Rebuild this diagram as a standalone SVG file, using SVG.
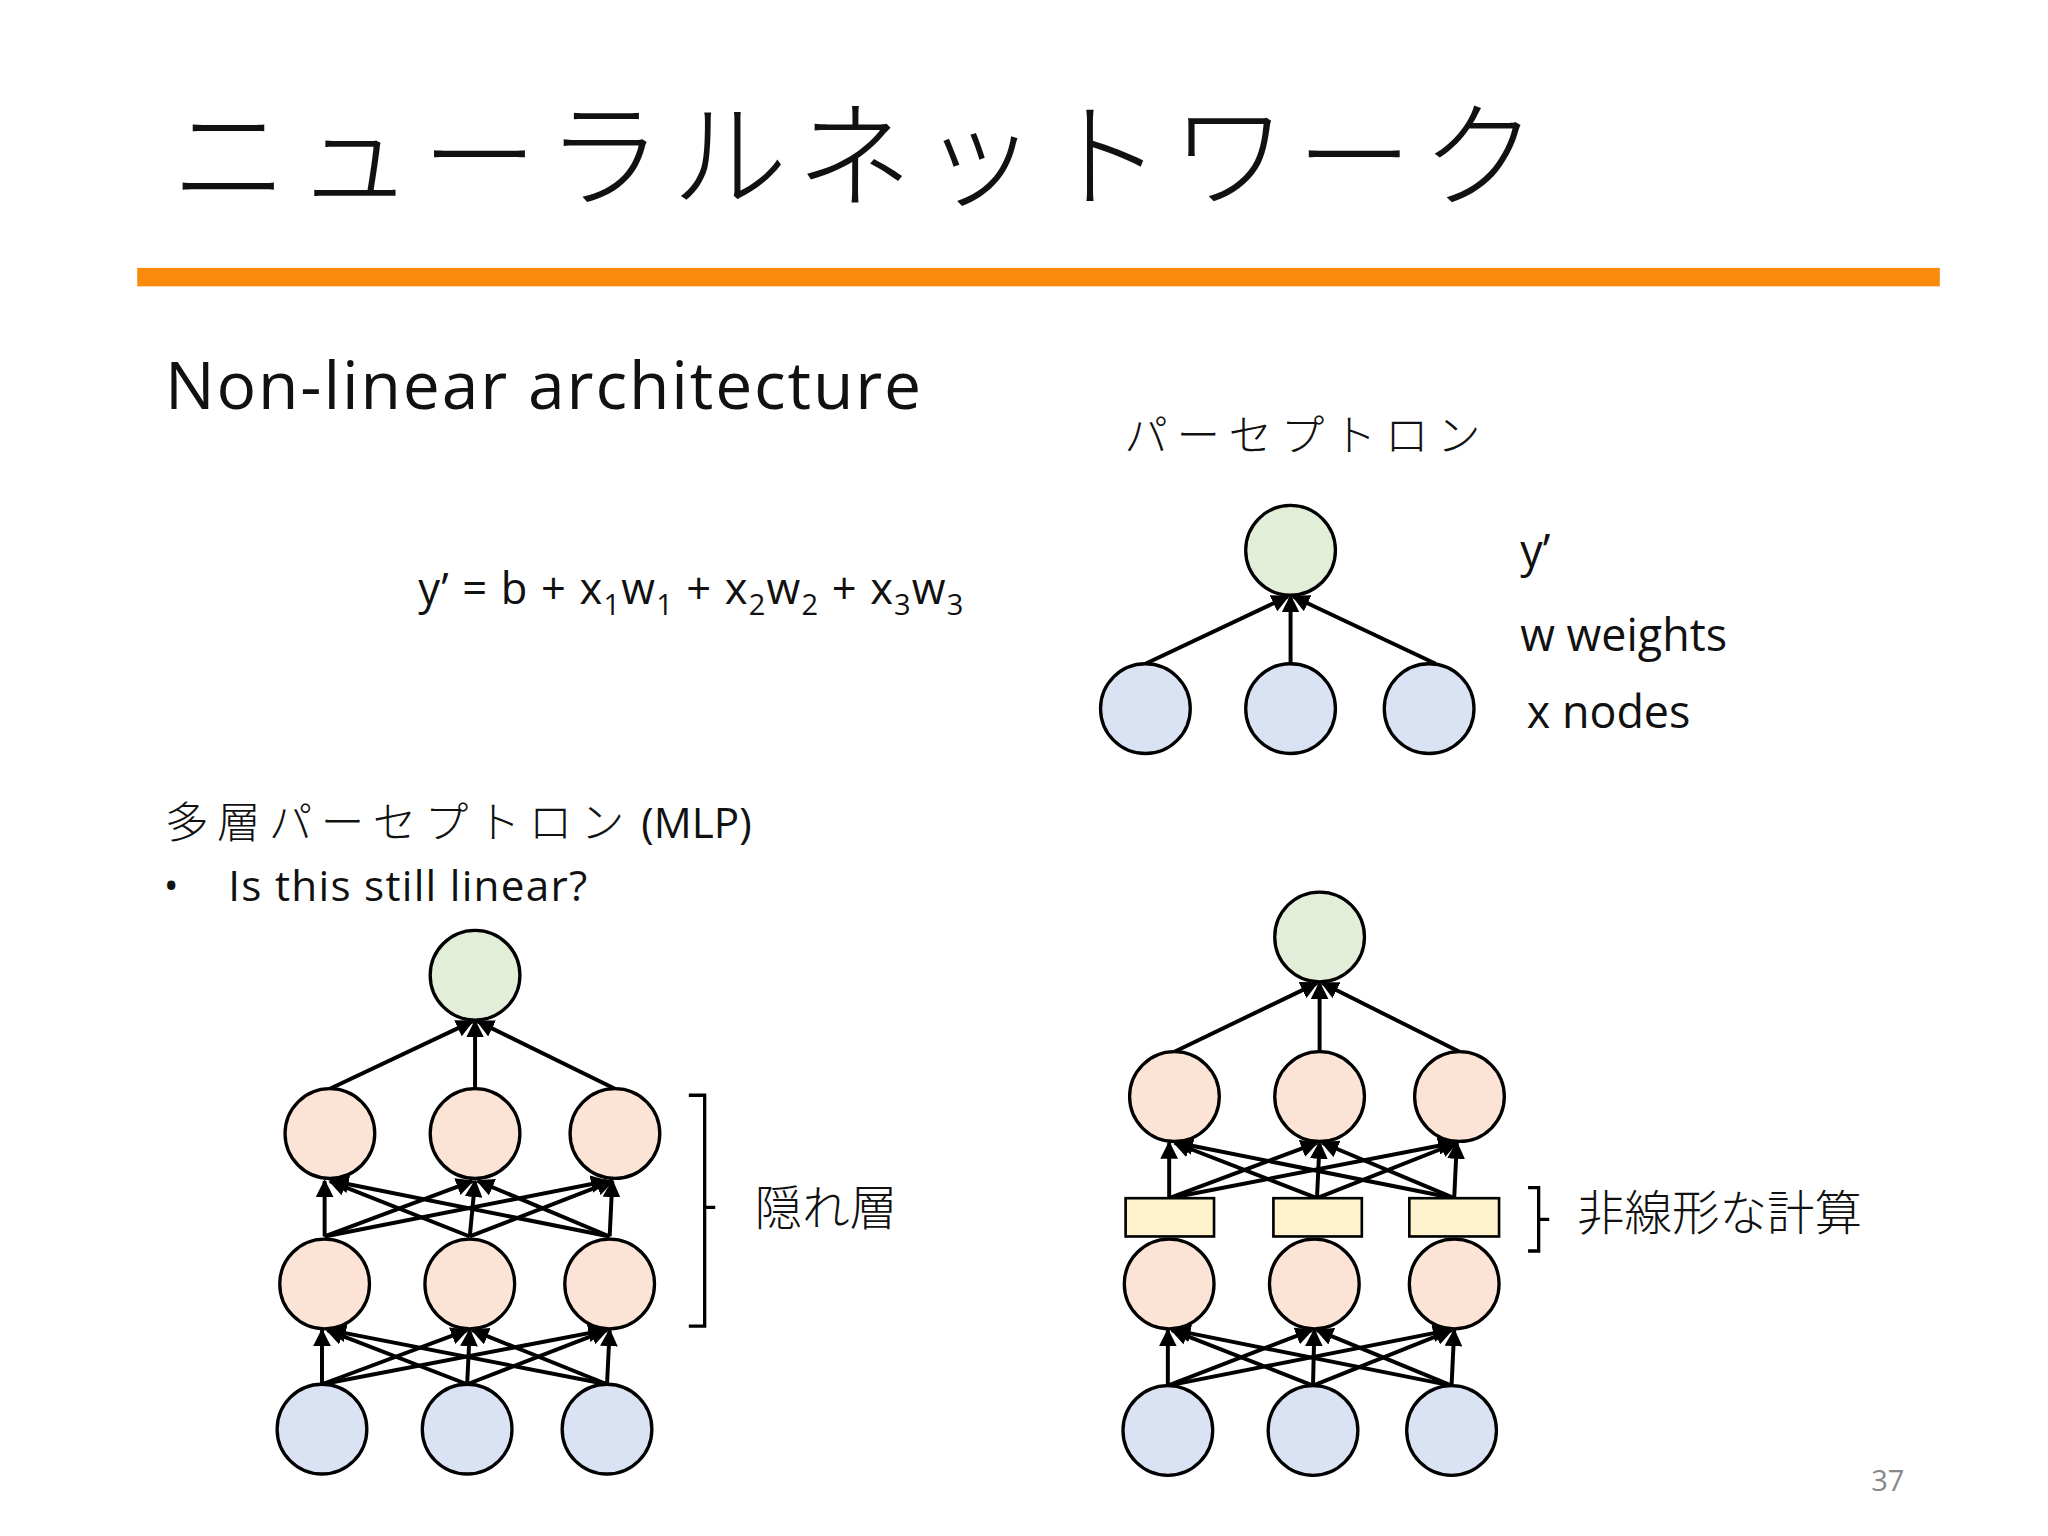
<svg xmlns="http://www.w3.org/2000/svg" width="2048" height="1536" viewBox="0 0 2048 1536">
<style>
.t{font-family:"Open Sans","Liberation Sans","Noto Sans CJK JP",sans-serif;fill:#111}
.j{font-family:"Noto Sans CJK JP",sans-serif;fill:#111;font-weight:300}
.g{fill:#e3eed9;stroke:#000;stroke-width:2.5}
.b{fill:#dae3f3;stroke:#000;stroke-width:2.5}
.o{fill:#fbe4d6;stroke:#000;stroke-width:2.5}
.y{fill:#fff2cc;stroke:#000;stroke-width:2}
.c line{stroke:#000;stroke-width:3;marker-end:url(#a)}
</style>
<defs><marker id="a" viewBox="0 0 10 10" refX="9" refY="5" markerWidth="4.5" markerHeight="4.5" orient="auto"><path d="M0,0L10,5L0,10z" fill="#000"/></marker></defs>
<rect width="2048" height="1536" fill="#fff"/>
<g transform="scale(1.3196)">
<text class="j" x="130" y="150" font-size="88" textLength="1035" lengthAdjust="spacing">ニューラルネットワーク</text>
<rect x="104" y="203" width="1366" height="14" fill="#f98a0c"/>
<text class="t" x="125" y="310" font-size="50" textLength="573">Non-linear architecture</text>
<text class="j" x="852" y="342" font-size="33" textLength="270" lengthAdjust="spacing">パーセプトロン</text>
<text class="t" x="317" y="458" font-size="33" textLength="413">y’ = b + x<tspan font-size="22" dy="8">1</tspan><tspan dy="-8">w</tspan><tspan font-size="22" dy="8">1</tspan><tspan dy="-8"> + x</tspan><tspan font-size="22" dy="8">2</tspan><tspan dy="-8">w</tspan><tspan font-size="22" dy="8">2</tspan><tspan dy="-8"> + x</tspan><tspan font-size="22" dy="8">3</tspan><tspan dy="-8">w</tspan><tspan font-size="22" dy="8">3</tspan></text>
<text class="t" x="1152" y="430" font-size="34">y’</text>
<text class="t" x="1152" y="493" font-size="34">w weights</text>
<text class="t" x="1157" y="552" font-size="34">x nodes</text>
<text class="j" x="125" y="635" font-size="33" textLength="348" lengthAdjust="spacing">多層パーセプトロン</text>
<text class="t" x="486" y="635" font-size="32">(MLP)</text>
<text class="t" x="124" y="682" font-size="30">•</text>
<text class="t" x="173" y="683" font-size="32" textLength="272">Is this still linear?</text>
<text class="j" x="572" y="928" font-size="36">隠れ層</text>
<text class="j" x="1195" y="932" font-size="36">非線形な計算</text>
<text class="t" x="1418" y="1130" font-size="22" style="fill:#888">37</text>
<path d="M522,830H534V1005H522M534,915H542" fill="none" stroke="#000" stroke-width="2.5"/>
<path d="M1158,900H1166V948H1158M1166,924H1174" fill="none" stroke="#000" stroke-width="2.5"/>
<g id="connectors" class="c">
<line x1="868" y1="503" x2="976" y2="452"/><line x1="978" y1="503" x2="978" y2="452"/><line x1="1088" y1="503" x2="980" y2="452"/>
<line x1="250" y1="825" x2="358" y2="774"/><line x1="360" y1="825" x2="360" y2="774"/><line x1="466" y1="825" x2="362" y2="774"/>
<line x1="246" y1="937" x2="246" y2="895"/><line x1="246" y1="937" x2="358" y2="895"/><line x1="246" y1="937" x2="460" y2="895"/>
<line x1="356" y1="937" x2="250" y2="895"/><line x1="356" y1="937" x2="360" y2="895"/><line x1="356" y1="937" x2="464" y2="895"/>
<line x1="462" y1="937" x2="252" y2="895"/><line x1="462" y1="937" x2="362" y2="895"/><line x1="462" y1="937" x2="464" y2="895"/>
<line x1="244" y1="1049" x2="244" y2="1008"/><line x1="244" y1="1049" x2="354" y2="1008"/><line x1="244" y1="1049" x2="458" y2="1008"/>
<line x1="354" y1="1049" x2="248" y2="1008"/><line x1="354" y1="1049" x2="356" y2="1008"/><line x1="354" y1="1049" x2="460" y2="1008"/>
<line x1="460" y1="1049" x2="250" y2="1008"/><line x1="460" y1="1049" x2="358" y2="1008"/><line x1="460" y1="1049" x2="462" y2="1008"/>
<line x1="890" y1="797" x2="998" y2="745"/><line x1="1000" y1="797" x2="1000" y2="745"/><line x1="1106" y1="797" x2="1002" y2="745"/>
<line x1="886" y1="908" x2="886" y2="866"/><line x1="886" y1="908" x2="998" y2="866"/><line x1="886" y1="908" x2="1102" y2="866"/>
<line x1="998" y1="908" x2="890" y2="866"/><line x1="998" y1="908" x2="1000" y2="866"/><line x1="998" y1="908" x2="1104" y2="866"/>
<line x1="1102" y1="908" x2="892" y2="866"/><line x1="1102" y1="908" x2="1002" y2="866"/><line x1="1102" y1="908" x2="1104" y2="866"/>
<line x1="885" y1="1050" x2="885" y2="1008"/><line x1="885" y1="1050" x2="994" y2="1008"/><line x1="885" y1="1050" x2="1098" y2="1008"/>
<line x1="995" y1="1050" x2="888" y2="1008"/><line x1="995" y1="1050" x2="996" y2="1008"/><line x1="995" y1="1050" x2="1100" y2="1008"/>
<line x1="1100" y1="1050" x2="890" y2="1008"/><line x1="1100" y1="1050" x2="998" y2="1008"/><line x1="1100" y1="1050" x2="1102" y2="1008"/>
</g>
<g id="perceptron">
<circle class="g" cx="978" cy="417" r="34"/>
<circle class="b" cx="868" cy="537" r="34"/><circle class="b" cx="978" cy="537" r="34"/><circle class="b" cx="1083" cy="537" r="34"/>
</g>
<g id="mlp-left">
<circle class="g" cx="360" cy="739" r="34"/>
<circle class="o" cx="250" cy="859" r="34"/><circle class="o" cx="360" cy="859" r="34"/><circle class="o" cx="466" cy="859" r="34"/>
<circle class="o" cx="246" cy="973" r="34"/><circle class="o" cx="356" cy="973" r="34"/><circle class="o" cx="462" cy="973" r="34"/>
<circle class="b" cx="244" cy="1083" r="34"/><circle class="b" cx="354" cy="1083" r="34"/><circle class="b" cx="460" cy="1083" r="34"/>
</g>
<g id="mlp-right">
<circle class="g" cx="1000" cy="710" r="34"/>
<circle class="o" cx="890" cy="831" r="34"/><circle class="o" cx="1000" cy="831" r="34"/><circle class="o" cx="1106" cy="831" r="34"/>
<rect class="y" x="853" y="908" width="67" height="29"/><rect class="y" x="965" y="908" width="67" height="29"/><rect class="y" x="1068" y="908" width="68" height="29"/>
<circle class="o" cx="886" cy="973" r="34"/><circle class="o" cx="996" cy="973" r="34"/><circle class="o" cx="1102" cy="973" r="34"/>
<circle class="b" cx="885" cy="1084" r="34"/><circle class="b" cx="995" cy="1084" r="34"/><circle class="b" cx="1100" cy="1084" r="34"/>
</g>
</g>
</svg>
